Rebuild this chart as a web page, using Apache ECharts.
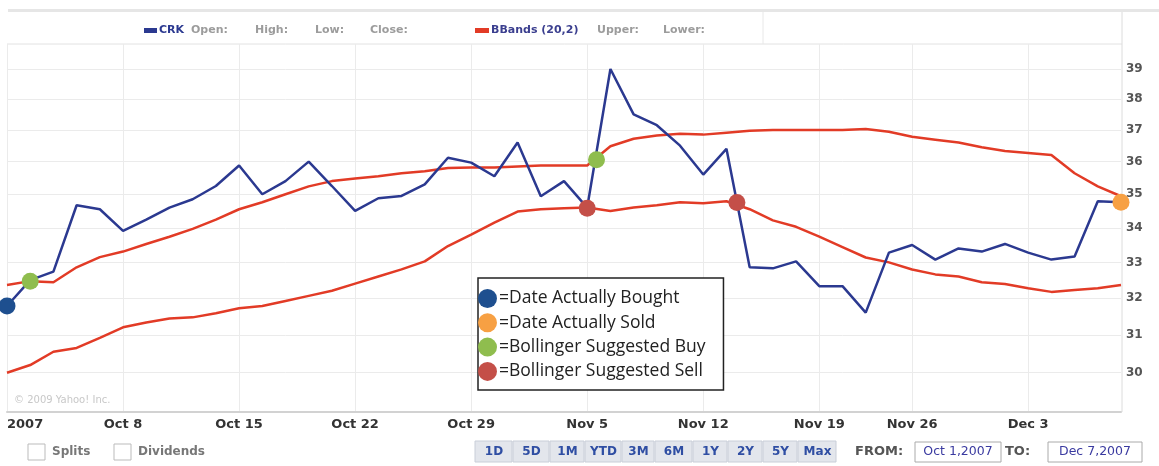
<!DOCTYPE html>
<html>
<head>
<meta charset="utf-8">
<script src="https://cdn.jsdelivr.net/npm/echarts@6/dist/echarts.min.js"></script>
<style>
  html, body { margin: 0; padding: 0; background: #fff; }
  #chart { width: 1159px; height: 466px; }
</style>
</head>
<body>
<div id="chart"></div>
<script>
// trading days, Oct 1 - Dec 7 2007 (Thanksgiving closed)
const days = [
  'Oct 1', 'Oct 2', 'Oct 3', 'Oct 4', 'Oct 5',
  'Oct 8', 'Oct 9', 'Oct 10', 'Oct 11', 'Oct 12',
  'Oct 15', 'Oct 16', 'Oct 17', 'Oct 18', 'Oct 19',
  'Oct 22', 'Oct 23', 'Oct 24', 'Oct 25', 'Oct 26',
  'Oct 29', 'Oct 30', 'Oct 31', 'Nov 1', 'Nov 2',
  'Nov 5', 'Nov 6', 'Nov 7', 'Nov 8', 'Nov 9',
  'Nov 12', 'Nov 13', 'Nov 14', 'Nov 15', 'Nov 16',
  'Nov 19', 'Nov 20', 'Nov 21', 'Nov 23',
  'Nov 26', 'Nov 27', 'Nov 28', 'Nov 29', 'Nov 30',
  'Dec 3', 'Dec 4', 'Dec 5', 'Dec 6', 'Dec 7'
];

const crkClose = [
  31.78, 32.50, 32.74, 34.67, 34.55,
  33.91, 34.24, 34.60, 34.85, 35.25,
  35.88, 35.00, 35.40, 36.00, 35.25,
  34.50, 34.88, 34.95, 35.30, 36.12,
  35.97, 35.55, 36.60, 34.94, 35.40,
  34.60, 39.00, 37.50, 37.15, 36.50,
  35.60, 36.40, 32.86, 32.83, 33.03,
  32.33, 32.33, 31.60, 33.28,
  33.50, 33.08, 33.40, 33.31, 33.53,
  33.28, 33.08, 33.17, 34.79, 34.76
];

const bbUpper = [
  32.36, 32.47, 32.44, 32.86, 33.15,
  33.31, 33.53, 33.74, 33.97, 34.24,
  34.55, 34.76, 35.00, 35.24, 35.40,
  35.48, 35.55, 35.64, 35.70, 35.80,
  35.82, 35.82, 35.85, 35.88, 35.88,
  35.88, 36.48, 36.72, 36.82, 36.88,
  36.85, 36.91, 36.97, 37.00, 37.00,
  37.00, 37.00, 37.03, 36.94,
  36.78, 36.69, 36.60, 36.45, 36.33,
  36.27, 36.21, 35.64, 35.24, 34.94
];

const bbLower = [
  30.00, 30.20, 30.55, 30.65, 30.92,
  31.20, 31.33, 31.44, 31.47, 31.58,
  31.72, 31.78, 31.92, 32.06, 32.20,
  32.40, 32.60, 32.80, 33.03, 33.47,
  33.80, 34.15, 34.48, 34.55, 34.58,
  34.60, 34.50, 34.60, 34.67, 34.76,
  34.73, 34.79, 34.55, 34.22, 34.03,
  33.74, 33.44, 33.14, 33.00,
  32.80, 32.66, 32.60, 32.44, 32.39,
  32.27, 32.17, 32.22, 32.27, 32.36
];

// marked points: [day index, price]
const actuallyBought = [[0, 31.78]];
const actuallySold = [[48, 34.76]];
const suggestedBuy = [[1, 32.47], [25.4, 36.06]];
const suggestedSell = [[25, 34.58], [31.45, 34.75]];

const xTickIndex = [0, 5, 10, 15, 20, 25, 30, 35, 39, 44];
const xTickLabels = ['2007', 'Oct 8', 'Oct 15', 'Oct 22', 'Oct 29', 'Nov 5', 'Nov 12', 'Nov 19', 'Nov 26', 'Dec 3'];
const yTicks = [30, 31, 32, 33, 34, 35, 36, 37, 38, 39];

const rangeButtons = ['1D', '5D', '1M', 'YTD', '3M', '6M', '1Y', '2Y', '5Y', 'Max'];
const buttonEdges = [475, 513, 550, 585, 622, 655, 693, 728, 763, 798, 837];

const chart = echarts.init(document.getElementById('chart'));

const uiFont = 'DejaVu Sans';
const navy = '#2b3990';
const bandRed = '#e23b26';

function indexed(values) {
  return values.map((v, i) => [i, v]);
}

// header, border lines and the controls under the chart
const graphics = [
  { type: 'rect', shape: { x: 8, y: 9, width: 1151, height: 3 }, style: { fill: '#e6e6e6' } },
  { type: 'line', shape: { x1: 7, y1: 44, x2: 1122, y2: 44 }, style: { stroke: '#e2e2e2', lineWidth: 1 } },
  { type: 'line', shape: { x1: 763, y1: 12, x2: 763, y2: 44 }, style: { stroke: '#e8e8e8', lineWidth: 1 } },
  { type: 'line', shape: { x1: 1122, y1: 12, x2: 1122, y2: 412 }, style: { stroke: '#dcdcdc', lineWidth: 1 } },
  { type: 'rect', shape: { x: 144, y: 28, width: 13, height: 5 }, style: { fill: navy } },
  { type: 'text', x: 159, y: 30, style: { text: 'CRK', fill: navy, font: 'bold 11px ' + uiFont, verticalAlign: 'middle' } },
  { type: 'text', x: 191, y: 30, style: { text: 'Open:', fill: '#9c9c9c', font: 'bold 11px ' + uiFont, verticalAlign: 'middle' } },
  { type: 'text', x: 255, y: 30, style: { text: 'High:', fill: '#9c9c9c', font: 'bold 11px ' + uiFont, verticalAlign: 'middle' } },
  { type: 'text', x: 315, y: 30, style: { text: 'Low:', fill: '#9c9c9c', font: 'bold 11px ' + uiFont, verticalAlign: 'middle' } },
  { type: 'text', x: 370, y: 30, style: { text: 'Close:', fill: '#9c9c9c', font: 'bold 11px ' + uiFont, verticalAlign: 'middle' } },
  { type: 'rect', shape: { x: 475, y: 28, width: 14, height: 5 }, style: { fill: bandRed } },
  { type: 'text', x: 491, y: 30, style: { text: 'BBands (20,2)', fill: '#3b3f8f', font: 'bold 11px ' + uiFont, verticalAlign: 'middle' } },
  { type: 'text', x: 597, y: 30, style: { text: 'Upper:', fill: '#9c9c9c', font: 'bold 11px ' + uiFont, verticalAlign: 'middle' } },
  { type: 'text', x: 663, y: 30, style: { text: 'Lower:', fill: '#9c9c9c', font: 'bold 11px ' + uiFont, verticalAlign: 'middle' } },
  { type: 'text', x: 14, y: 400, style: { text: '\u00a9 2009 Yahoo! Inc.', fill: '#c8c8c8', font: '10px ' + uiFont, verticalAlign: 'middle' } },
  { type: 'rect', shape: { x: 28, y: 444, width: 17, height: 16 }, style: { fill: '#fff', stroke: '#bbb', lineWidth: 1 } },
  { type: 'text', x: 52, y: 452, style: { text: 'Splits', fill: '#777', font: 'bold 12px ' + uiFont, verticalAlign: 'middle' } },
  { type: 'rect', shape: { x: 114, y: 444, width: 17, height: 16 }, style: { fill: '#fff', stroke: '#bbb', lineWidth: 1 } },
  { type: 'text', x: 138, y: 452, style: { text: 'Dividends', fill: '#777', font: 'bold 12px ' + uiFont, verticalAlign: 'middle' } },
  { type: 'text', x: 855, y: 452, style: { text: 'FROM:', fill: '#555', font: 'bold 13px ' + uiFont, verticalAlign: 'middle' } },
  { type: 'rect', shape: { x: 915, y: 442, width: 86, height: 20 }, style: { fill: '#fff', stroke: '#aaa', lineWidth: 1 } },
  { type: 'text', x: 958, y: 452, style: { text: 'Oct 1,2007', fill: '#3a3aa0', font: '12.5px ' + uiFont, align: 'center', verticalAlign: 'middle' } },
  { type: 'text', x: 1005, y: 452, style: { text: 'TO:', fill: '#555', font: 'bold 13px ' + uiFont, verticalAlign: 'middle' } },
  { type: 'rect', shape: { x: 1048, y: 442, width: 94, height: 20 }, style: { fill: '#fff', stroke: '#aaa', lineWidth: 1 } },
  { type: 'text', x: 1095, y: 452, style: { text: 'Dec 7,2007', fill: '#3a3aa0', font: '12.5px ' + uiFont, align: 'center', verticalAlign: 'middle' } }
];

rangeButtons.forEach((b, i) => {
  const x0 = buttonEdges[i], x1 = buttonEdges[i + 1];
  graphics.push({ type: 'rect', shape: { x: x0, y: 441, width: x1 - x0 - 1, height: 21 },
    style: { fill: '#e3e6ec', stroke: '#c9ced8', lineWidth: 1 } });
  graphics.push({ type: 'text', x: (x0 + x1) / 2, y: 452,
    style: { text: b, fill: '#2f4ea3', font: 'bold 12px ' + uiFont, align: 'center', verticalAlign: 'middle' } });
});

const markerSeries = [
  { name: 'Date Actually Bought', data: actuallyBought, color: '#1e4f8f' },
  { name: 'Date Actually Sold', data: actuallySold, color: '#f7a043' },
  { name: 'Bollinger Suggested Buy', data: suggestedBuy, color: '#8fbd4e' },
  { name: 'Bollinger Suggested Sell', data: suggestedSell, color: '#c44f48' }
].map(m => ({
  name: m.name,
  type: 'scatter',
  data: m.data,
  symbolSize: 17,
  clip: false,
  z: 5,
  itemStyle: { color: m.color, opacity: 1 }
}));

const option = {
  animation: false,
  backgroundColor: '#fff',
  grid: { left: 7, right: 38, top: 44, bottom: 54 },
  legend: {
    data: markerSeries.map(s => s.name),
    orient: 'vertical',
    left: 478,
    top: 278,
    padding: [11, 18, 9, 0],
    itemWidth: 19,
    itemHeight: 19,
    itemGap: 5.3,
    icon: 'circle',
    selectedMode: false,
    backgroundColor: '#fff',
    borderColor: '#222',
    borderWidth: 1.5,
    formatter: name => '=' + name,
    textStyle: { fontFamily: 'Open Sans', fontSize: 17.5, color: '#222', padding: [0, 0, 0, -3] }
  },
  xAxis: {
    type: 'value',
    min: 0,
    max: days.length - 1,
    axisLine: { lineStyle: { color: '#d2d2d2', width: 2 } },
    axisTick: { show: false, customValues: xTickIndex },
    axisLabel: {
      customValues: xTickIndex,
      formatter: v => xTickLabels[xTickIndex.indexOf(v)],
      alignMinLabel: 'left',
      color: '#333',
      fontFamily: uiFont,
      fontWeight: 'bold',
      fontSize: 13,
      margin: 6
    },
    splitLine: { show: true, lineStyle: { color: '#ebebeb', width: 1 } }
  },
  yAxis: {
    type: 'log',
    logBase: 10,
    min: 29,
    max: 39.85,
    position: 'right',
    axisLine: { show: false },
    axisTick: { show: false, customValues: yTicks },
    axisLabel: {
      customValues: yTicks,
      color: '#555',
      fontFamily: uiFont,
      fontWeight: 'bold',
      fontSize: 12,
      margin: 5
    },
    splitLine: { show: true, lineStyle: { color: '#ebebeb', width: 1 } }
  },
  graphic: graphics,
  series: [
    {
      name: 'BBands Upper',
      type: 'line',
      data: indexed(bbUpper),
      showSymbol: false,
      lineStyle: { color: bandRed, width: 2.5 },
      z: 2
    },
    {
      name: 'BBands Lower',
      type: 'line',
      data: indexed(bbLower),
      showSymbol: false,
      lineStyle: { color: bandRed, width: 2.5 },
      z: 2
    },
    {
      name: 'CRK',
      type: 'line',
      data: indexed(crkClose),
      showSymbol: false,
      lineStyle: { color: navy, width: 2.5 },
      z: 3
    }
  ].concat(markerSeries)
};

chart.setOption(option);
</script>
</body>
</html>
